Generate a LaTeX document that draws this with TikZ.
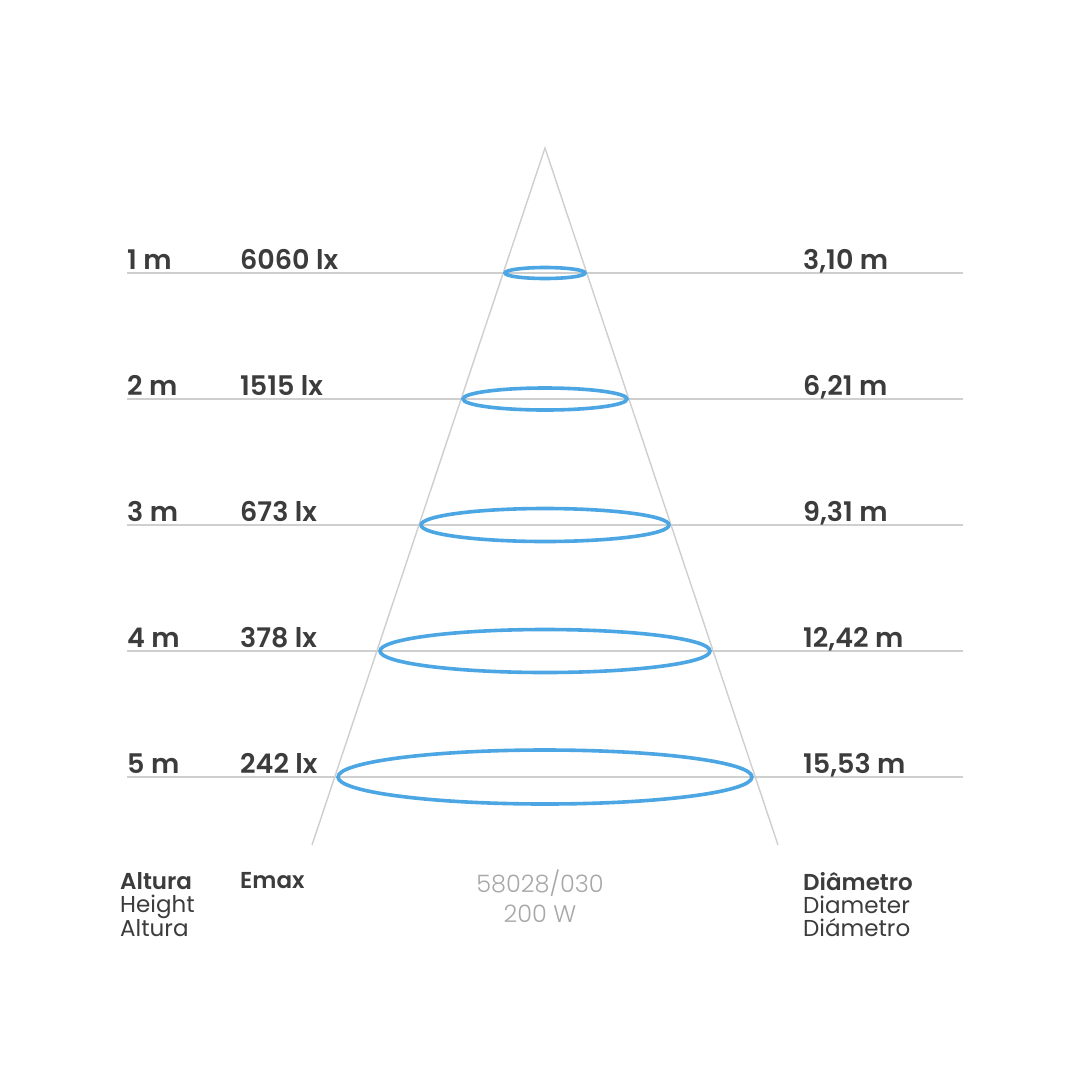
\documentclass[tikz,border=0pt]{standalone}
\usepackage{fontspec}
\setmainfont{Poppins}[BoldFont={Poppins SemiBold}]
\newfontfamily\lightfont{Poppins Light}
\definecolor{labelgray}{HTML}{3C3C3C}
\definecolor{rulegray}{HTML}{CFCFCF}
\definecolor{codegray}{HTML}{A8A8A8}
\definecolor{beamblue}{HTML}{4BA6E3}
\tikzset{
  value/.style={anchor=base west, inner sep=0pt, text=labelgray, font=\fontsize{27}{30}\selectfont\bfseries},
  legend/.style={anchor=north west, inner sep=0pt, align=left, text=labelgray, font=\fontsize{23}{23}\selectfont},
  rule/.style={draw=rulegray, line width=1.4pt},
  beam/.style={draw=beamblue, line width=3.6pt}
}
\begin{document}
\begin{tikzpicture}[x=1pt,y=-1pt]
      \useasboundingbox[fill=white] (0,0) rectangle (1080,1080);

      % cone
      \coordinate (apex)  at (545,148);
      \coordinate (baseL) at (312,845);
      \coordinate (baseR) at (778,845);
      \path[rule] (baseL) -- (apex) -- (baseR);

      % height rules
      \coordinate (l1) at (127,273); \coordinate (r1) at (963,273);
      \coordinate (l2) at (127,399); \coordinate (r2) at (963,399);
      \coordinate (l3) at (127,525); \coordinate (r3) at (963,525);
      \coordinate (l4) at (127,651); \coordinate (r4) at (963,651);
      \coordinate (l5) at (127,777); \coordinate (r5) at (963,777);
      \path[rule] (l1) -- (r1);
      \path[rule] (l2) -- (r2);
      \path[rule] (l3) -- (r3);
      \path[rule] (l4) -- (r4);
      \path[rule] (l5) -- (r5);

      % light spots
      \coordinate (c1) at (545,273);
      \coordinate (c2) at (545,399);
      \coordinate (c3) at (545,525);
      \coordinate (c4) at (545,651);
      \coordinate (c5) at (545,777);
      \draw[beam] (c1) ellipse (40 and 5.5);
      \draw[beam] (c2) ellipse (82 and 11);
      \draw[beam] (c3) ellipse (124 and 16.5);
      \draw[beam] (c4) ellipse (165 and 21.5);
      \draw[beam] (c5) ellipse (207 and 27);

      \begin{scope}[every node/.style={value}]
        \node (h1) at (127,269) {1 m};
        \node (h2) at (127,395) {2 m};
        \node (h3) at (127,521) {3 m};
        \node (h4) at (127,647) {4 m};
        \node (h5) at (127,773) {5 m};
        \node (e1) at (240,269) {6060 lx};
        \node (e2) at (240,395) {1515 lx};
        \node (e3) at (240,521) {673 lx};
        \node (e4) at (240,647) {378 lx};
        \node (e5) at (240,773) {242 lx};
        \node (d1) at (803,269) {3,10 m};
        \node (d2) at (803,395) {6,21 m};
        \node (d3) at (803,521) {9,31 m};
        \node (d4) at (803,647) {12,42 m};
        \node (d5) at (803,773) {15,53 m};
      \end{scope}

      % legend
      \node[legend] (altura) at (120,872) {\textbf{Altura}\\Height\\Altura};
      \node[legend] (emax) at (240,872) {\textbf{Emax}};
      \node[legend, anchor=north, align=center, text=codegray, font=\fontsize{24}{30}\lightfont] (model) at (540,870)
        {58028/030\\200 W};
      \node[legend] (diametro) at (803,872) {\textbf{Diâmetro}\\Diameter\\Diámetro};

    \end{tikzpicture}
\end{document}
